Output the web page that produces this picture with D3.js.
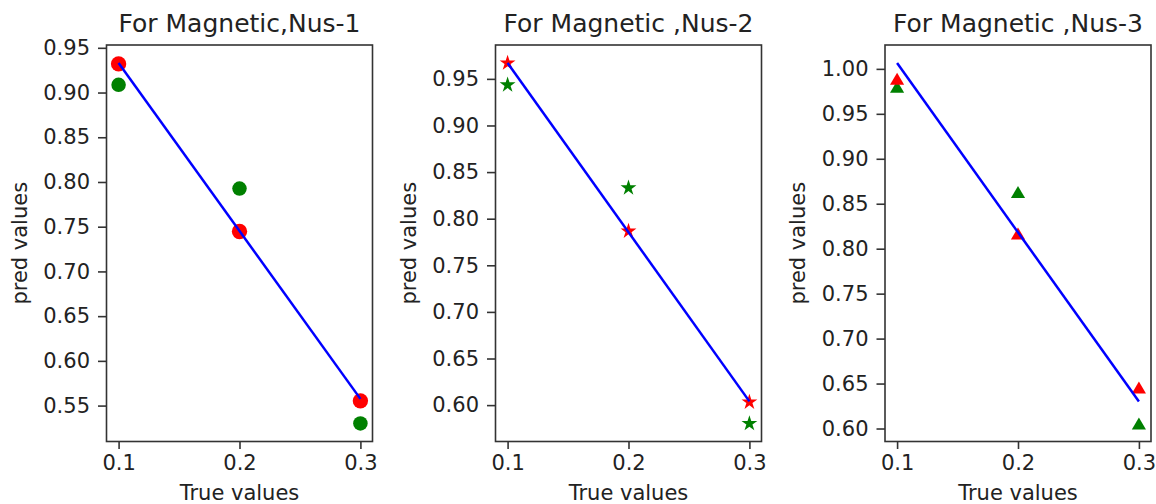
<!DOCTYPE html>
<html>
<head>
<meta charset="utf-8">
<script src="https://cdn.jsdelivr.net/npm/d3@7"></script>
<style>
  html, body { margin: 0; padding: 0; background: #fff; }
  svg { display: block; }
  text { font-family: "DejaVu Sans", sans-serif; fill: #222; }
</style>
</head>
<body>
<svg id="chart" width="1156" height="504"></svg>
<script>
// ---- data ----
const xValues = [0.1, 0.2, 0.3];
const titles = ["For Magnetic,Nus-1", "For Magnetic ,Nus-2", "For Magnetic ,Nus-3"];
const markerShapes = ["circle", "star", "triangle"];

const redNus1 = [0.932, 0.7446, 0.5553];
const greenNus1 = [0.9087, 0.7926, 0.530];
const lineNus1 = [0.933, 0.5575];

const redNus2 = [0.967, 0.7866, 0.6032];
const greenNus2 = [0.9435, 0.833, 0.5803];
const lineNus2 = [0.967, 0.604];

const redNus3 = [0.989, 0.817, 0.6456];
const greenNus3 = [0.980, 0.863, 0.6056];
const lineNus3 = [1.0065, 0.630];

const xTicks = [0.1, 0.2, 0.3];
const yTicksNus1 = [0.55, 0.60, 0.65, 0.70, 0.75, 0.80, 0.85, 0.90, 0.95];
const yTicksNus2 = [0.60, 0.65, 0.70, 0.75, 0.80, 0.85, 0.90, 0.95];
const yTicksNus3 = [0.60, 0.65, 0.70, 0.75, 0.80, 0.85, 0.90, 0.95, 1.00];

const xLabel = "True values";
const yLabel = "pred values";

// ---- build panels ----
const panels = [
  { title: titles[0], red: redNus1, green: greenNus1, line: lineNus1, yTicks: yTicksNus1, shape: markerShapes[0] },
  { title: titles[1], red: redNus2, green: greenNus2, line: lineNus2, yTicks: yTicksNus2, shape: markerShapes[1] },
  { title: titles[2], red: redNus3, green: greenNus3, line: lineNus3, yTicks: yTicksNus3, shape: markerShapes[2] }
];

const svg = d3.select("#chart");
const lefts = [106.5, 495.5, 885];
const plotW = 266, plotTop = 45, plotBottom = 441.5;

const triangleUp = {
  draw(ctx, size) {
    const w = Math.sqrt(size) / 2, h = w * 0.85;
    ctx.moveTo(0, -h);
    ctx.lineTo(w, h);
    ctx.lineTo(-w, h);
    ctx.closePath();
  }
};

function symbolFor(shape, color) {
  if (shape === "circle") return d3.symbol(d3.symbolCircle, color === "red" ? 185 : 165)();
  if (shape === "star") return d3.symbol(d3.symbolStar, 78)();
  return d3.symbol(triangleUp, 200)();
}

panels.forEach((p, i) => {
  const left = lefts[i];
  const g = svg.append("g");

  const x = d3.scaleLinear().domain([0.09, 0.31]).range([left, left + plotW]);
  const all = p.red.concat(p.green, p.line);
  const lo = d3.min(all), hi = d3.max(all), pad = (hi - lo) * 0.05;
  const y = d3.scaleLinear().domain([lo - pad, hi + pad]).range([plotBottom, plotTop]);

  const yAxis = d3.axisLeft(y).tickValues(p.yTicks).tickFormat(d3.format(".2f")).tickSize(8.5).tickPadding(8);
  const xAxis = d3.axisBottom(x).tickValues(xTicks).tickFormat(d3.format(".1f")).tickSize(7.5).tickPadding(6);

  const ya = g.append("g").attr("transform", `translate(${left},0)`).call(yAxis);
  const xa = g.append("g").attr("transform", `translate(0,${plotBottom})`).call(xAxis);
  [ya, xa].forEach(a => {
    a.select(".domain").remove();
    a.selectAll(".tick line").attr("stroke", "#333").attr("stroke-width", 1.6);
    a.selectAll(".tick text").attr("font-size", 21).attr("fill", "#222")
      .style("font-family", "'DejaVu Sans', sans-serif");
  });

  const lineData = [[xValues[0], p.line[0]], [xValues[2], p.line[1]]];
  g.selectAll(".green").data(p.green).join("path")
    .attr("transform", (d, j) => `translate(${x(xValues[j])},${y(d)})`)
    .attr("d", symbolFor(p.shape, "green")).attr("fill", "#008000");
  g.selectAll(".red").data(p.red).join("path")
    .attr("transform", (d, j) => `translate(${x(xValues[j])},${y(d)})`)
    .attr("d", symbolFor(p.shape, "red")).attr("fill", "#ff0000");
  g.append("path").datum(lineData)
    .attr("d", d3.line().x(d => x(d[0])).y(d => y(d[1])))
    .attr("stroke", "#0000ff").attr("stroke-width", 2.5).attr("fill", "none");

  g.append("rect").attr("x", left).attr("y", plotTop).attr("width", plotW).attr("height", plotBottom - plotTop)
    .attr("fill", "none").attr("stroke", "#333").attr("stroke-width", 1.6);

  g.append("text").attr("x", left + plotW / 2).attr("y", 32).attr("text-anchor", "middle")
    .attr("font-size", 25).text(p.title);
  g.append("text").attr("x", left + plotW / 2).attr("y", 500).attr("text-anchor", "middle")
    .attr("font-size", 21).text(xLabel);
  g.append("text").attr("transform", `translate(${left - 80},${(plotTop + plotBottom) / 2}) rotate(-90)`)
    .attr("text-anchor", "middle").attr("font-size", 21).text(yLabel);
});
</script>
</body>
</html>
